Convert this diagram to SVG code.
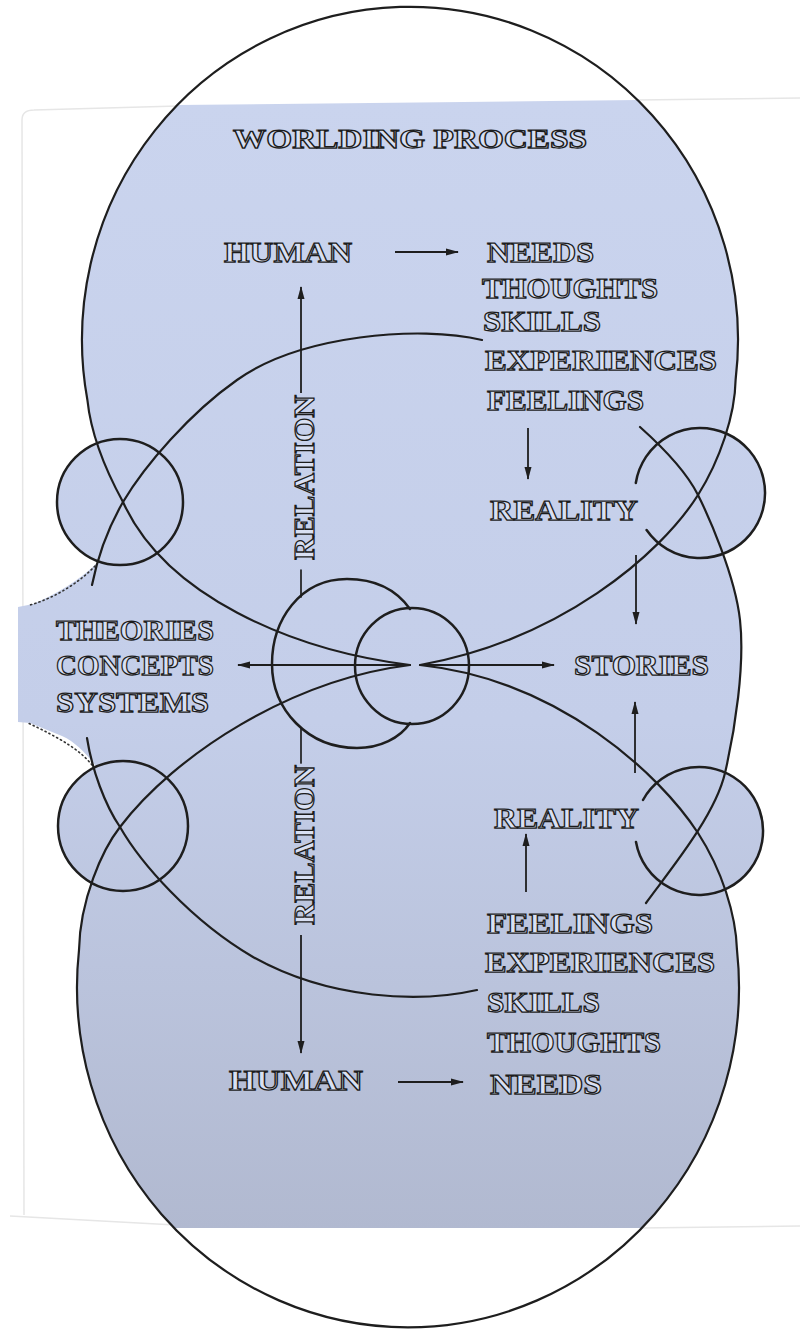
<svg xmlns="http://www.w3.org/2000/svg" width="800" height="1329" viewBox="0 0 800 1329">
<defs>
<linearGradient id="paper" gradientUnits="userSpaceOnUse" x1="0" y1="100" x2="0" y2="1230">
<stop offset="0" stop-color="#cad4ee"/>
<stop offset="0.55" stop-color="#c4cee9"/>
<stop offset="1" stop-color="#b1b9d0"/>
</linearGradient>
<marker id="ah" viewBox="0 0 13 10" refX="12" refY="5" markerWidth="13" markerHeight="10" markerUnits="userSpaceOnUse" orient="auto">
<path d="M0,1.5 L13,5 L0,8.5 Z" fill="#1e1e1e"/>
</marker>
<style>
.ink{fill:none;stroke:#1e1e1e;stroke-width:2.2;stroke-linecap:round;stroke-linejoin:round}
.ring{fill:none;stroke:#1e1e1e;stroke-width:2.5;stroke-linecap:round}
.thin{fill:none;stroke:#1e1e1e;stroke-width:1.7;stroke-linecap:round}
.arr{fill:none;stroke:#1e1e1e;stroke-width:1.8;marker-end:url(#ah)}
.lbl{font-family:"Liberation Serif","DejaVu Serif",serif;font-weight:bold;font-size:30px;fill:#d9e0f3;stroke:#1c1c1c;stroke-width:1.25}
.dots{fill:none;stroke:#333;stroke-width:1.6;stroke-dasharray:1.2 3.2;stroke-linecap:round}
.page{fill:none;stroke:#e6e6e6;stroke-width:1.5}
.paper{fill:url(#paper);stroke:none}
</style>
</defs>
<rect width="800" height="1329" fill="#ffffff"/>
<g id="page-edge">
<path class="page" d="M24,1215 L22,120 Q22,110 34,110 L178,106"/>
<path class="page" d="M637,100 L800,98"/>
<path class="page" d="M10,1216 L175,1225"/>
<path class="page" d="M640,1228 L800,1226"/>
</g>
<g id="paper-shape">
<path class="paper" d="M178,105 L637,100 A328 333 0 0 1 735.6,380 C735,415 720,460 698,495 C708,515 735,575 740,620 C745,665 735,730 725,773 L698,833 C722,870 736,915 737,950 A331 340 0 0 1 641.5,1228 L174.5,1228 A331 340 0 0 1 79,950 C80,900 102,850 120,827 L95,765 C85,752 75,742 62,736 L30,723 L18,722 L18,607 L33,604 C55,595 80,580 97,563 L123,502 C100,460 90,425 87.4,400 A328 333 0 0 1 178,105 Z"/>
<circle class="paper" cx="120" cy="502" r="63"/>
<circle class="paper" cx="123" cy="826" r="65"/>
<circle class="paper" cx="700" cy="493" r="65"/>
<circle class="paper" cx="699" cy="831" r="64"/>
<path class="dots" d="M95,566 C80,582 55,598 30,605"/>
<path class="dots" d="M92,765 C80,750 60,738 28,723"/>
</g>
<g id="connectors">
<path id="outer-upper" class="ink" d="M410,665 C290,650 165,595 123,502 C100,460 90,425 87.4,400 A328 333 0 1 1 735.6,380 C735,415 720,460 698,495 C660,555 560,640 420,665"/>
<path id="outer-lower" class="ink" d="M410,665 C290,680 175,755 120,827 C102,850 80,900 79,950 A331 340 0 1 0 737,950 C736,915 722,870 698,833 C660,775 560,680 420,665"/>
<path id="inner-left-upper" class="ink" d="M482,340 C420,325 300,335 237,380 C190,413 145,465 123,502 C108,528 98,555 92,585"/>
<path id="inner-left-lower" class="ink" d="M87,738 C92,770 105,805 120,827 C140,862 190,920 253,957 C330,1000 420,1003 477,990"/>
<path id="inner-right" class="ink" d="M640,427 C668,452 688,475 698,495 C708,515 735,575 740,620 C745,665 735,730 725,773 C715,816 670,870 646,903"/>
<circle id="ring-ul" class="ring" cx="120" cy="502" r="63"/>
<circle id="ring-ll" class="ring" cx="123" cy="826" r="65"/>
<path id="ring-ur" class="ring" d="M635.8,483 A65 65 0 1 1 646.6,530"/>
<path id="ring-lr" class="ring" d="M643,800 A64 64 0 1 1 636,842"/>
<path id="venn-large" class="ring" d="M410,609 C395,588 372,579 347,579 C300,579 272,620 272,664 C272,710 308,748 357,748 C380,748 400,738 410,723"/>
<ellipse id="venn-small" class="ring" cx="412" cy="666" rx="57" ry="58"/>
<path class="arr" d="M410,665 L238,665"/>
<path class="arr" d="M420,665 L554,665"/>
<path class="thin" d="M301,597 L301,570"/>
<path class="arr" d="M301,393 L301,287"/>
<path class="thin" d="M301,728 L301,763"/>
<path class="arr" d="M301,935 L301,1053"/>
<path class="arr" d="M395,252 L458,252"/>
<path class="arr" d="M528,428 L528,479"/>
<path class="arr" d="M636,555 L636,624"/>
<path class="arr" d="M635,773 L635,702"/>
<path class="arr" d="M526,892 L526,834"/>
<path class="arr" d="M398,1082 L463,1082"/>
</g>
<g id="title"><text class="lbl" x="233" y="148" textLength="354" lengthAdjust="spacingAndGlyphs" style="font-size:27px">WORLDING PROCESS</text></g>
<g id="human-top"><text class="lbl" x="224" y="262" textLength="128" lengthAdjust="spacingAndGlyphs">HUMAN</text></g>
<g id="needs-top"><text class="lbl" x="487" y="262" textLength="107" lengthAdjust="spacingAndGlyphs">NEEDS</text></g>
<g id="thoughts-top"><text class="lbl" x="482" y="298" textLength="176" lengthAdjust="spacingAndGlyphs">THOUGHTS</text></g>
<g id="skills-top"><text class="lbl" x="483" y="331" textLength="118" lengthAdjust="spacingAndGlyphs">SKILLS</text></g>
<g id="experiences-top"><text class="lbl" x="485" y="370" textLength="232" lengthAdjust="spacingAndGlyphs">EXPERIENCES</text></g>
<g id="feelings-top"><text class="lbl" x="487" y="410" textLength="157" lengthAdjust="spacingAndGlyphs">FEELINGS</text></g>
<g id="reality-top"><text class="lbl" x="490" y="520" textLength="148" lengthAdjust="spacingAndGlyphs">REALITY</text></g>
<g id="stories"><text class="lbl" x="574" y="675" textLength="135" lengthAdjust="spacingAndGlyphs">STORIES</text></g>
<g id="theories"><text class="lbl" x="56" y="640" textLength="158" lengthAdjust="spacingAndGlyphs">THEORIES</text>
<text class="lbl" x="56" y="675" textLength="158" lengthAdjust="spacingAndGlyphs">CONCEPTS</text>
<text class="lbl" x="56" y="712" textLength="153" lengthAdjust="spacingAndGlyphs">SYSTEMS</text></g>
<g id="reality-bottom"><text class="lbl" x="494" y="828" textLength="145" lengthAdjust="spacingAndGlyphs">REALITY</text></g>
<g id="feelings-bottom"><text class="lbl" x="487" y="933" textLength="166" lengthAdjust="spacingAndGlyphs">FEELINGS</text></g>
<g id="experiences-bottom"><text class="lbl" x="485" y="972" textLength="230" lengthAdjust="spacingAndGlyphs">EXPERIENCES</text></g>
<g id="skills-bottom"><text class="lbl" x="487" y="1012" textLength="113" lengthAdjust="spacingAndGlyphs">SKILLS</text></g>
<g id="thoughts-bottom"><text class="lbl" x="487" y="1052" textLength="174" lengthAdjust="spacingAndGlyphs">THOUGHTS</text></g>
<g id="human-bottom"><text class="lbl" x="229" y="1090" textLength="134" lengthAdjust="spacingAndGlyphs">HUMAN</text></g>
<g id="needs-bottom"><text class="lbl" x="490" y="1094" textLength="112" lengthAdjust="spacingAndGlyphs">NEEDS</text></g>
<g id="relation-top"><text class="lbl" transform="translate(314,560) rotate(-90)" x="0" y="0" textLength="165" lengthAdjust="spacingAndGlyphs">RELATION</text></g>
<g id="relation-bottom"><text class="lbl" transform="translate(314,925) rotate(-90)" x="0" y="0" textLength="160" lengthAdjust="spacingAndGlyphs">RELATION</text></g>
</svg>
